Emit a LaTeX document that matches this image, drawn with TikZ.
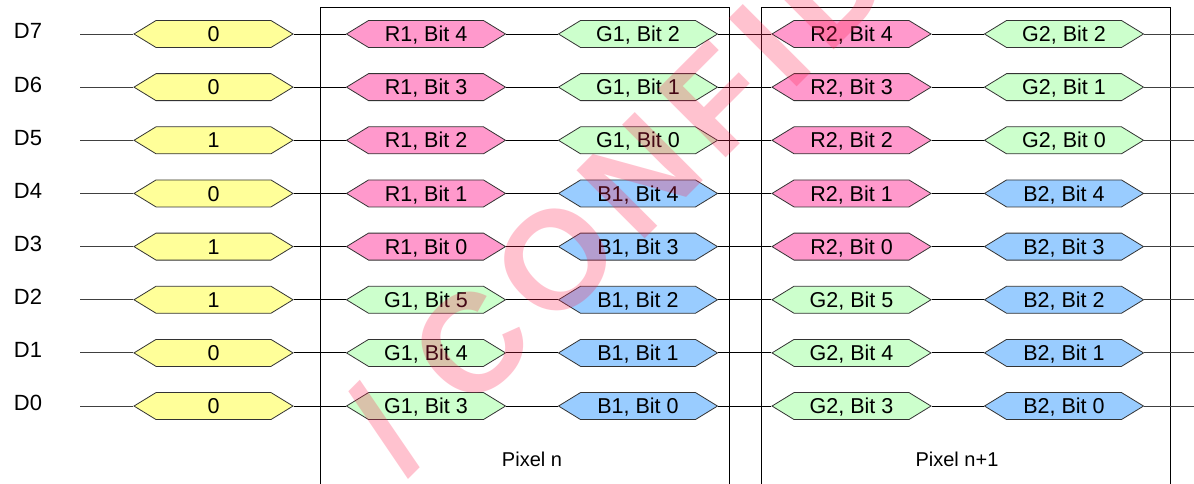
\documentclass[tikz,border=0pt]{standalone}
\usepackage{fontspec}
\setmainfont{Liberation Sans}
\newfontfamily\wmfont[LetterSpace=10]{Liberation Sans}
\usetikzlibrary{shapes.symbols}
\definecolor{colY}{HTML}{FFFF99}
\definecolor{colR}{HTML}{FF99CC}
\definecolor{colG}{HTML}{CCFFCC}
\definecolor{colB}{HTML}{99CCFF}
\definecolor{wmcol}{HTML}{FF2050}
\tikzset{
  hexbox/.style={shape=signal, signal to=west and east, signal pointer angle=63,
    minimum width=159pt, minimum height=27pt, inner sep=0pt, draw=black!80, line width=0.8pt,
    font=\fontsize{21.5}{24}\selectfont, text height=15.4pt, text depth=0pt},
  rowlabel/.style={font=\fontsize{22}{24}\selectfont, text height=15.8pt, text depth=0pt, inner sep=0pt},
  pixbox/.style={draw=black, line width=1pt},
  pixlabel/.style={font=\fontsize{20}{22}\selectfont, inner sep=0pt},
  wire/.style={draw=black, line width=0.9pt},
  wmark/.style={text=wmcol, text opacity=0.27, inner sep=0pt,
    font=\wmfont\bfseries\fontsize{140}{140}\selectfont}
}
\begin{document}
\begin{tikzpicture}[x=1pt,y=-1pt]
\path[use as bounding box] (0,0) rectangle (1194,484);
\clip (0,0) rectangle (1194,484);
\fill[white] (0,0) rectangle (1194,484);
% pixel frames
\draw[pixbox] (320,500) -- (320,8) -- (729,8) -- (729,500);
\draw[pixbox] (761,500) -- (761,8) -- (1170,8) -- (1170,500);
\node[pixlabel] (pn) at (532,459) {Pixel n};
\node[pixlabel] (pn1) at (957,459) {Pixel n+1};
% rows
\foreach \i/\v/\ca/\ba/\cb/\bb [count=\k from 0] in
  {7/0/R/4/G/2, 6/0/R/3/G/1, 5/1/R/2/G/0, 4/0/R/1/B/4,
   3/1/R/0/B/3, 2/1/G/5/B/2, 1/0/G/4/B/1, 0/0/G/3/B/0}{
  \pgfmathsetmacro{\yy}{34+53.15*\k}
  \node[rowlabel] (lab\i) at (28,\yy-3) {D\i};
  \coordinate (s\i) at (80,\yy);
  \coordinate (e\i) at (1194,\yy);
  \node[hexbox, fill=colY] (y\i) at (213.5,\yy) {\v};
  \node[hexbox, fill=col\ca] (a\i) at (426,\yy) {\ca1, Bit \ba};
  \node[hexbox, fill=col\cb] (b\i) at (638,\yy) {\cb1, Bit \bb};
  \node[hexbox, fill=col\ca] (c\i) at (851.5,\yy) {\ca2, Bit \ba};
  \node[hexbox, fill=col\cb] (d\i) at (1064,\yy) {\cb2, Bit \bb};
  \draw[wire, draw=black!75] (s\i) -- (y\i.west);
  \draw[wire] (y\i.east) -- (a\i.west);
  \draw[wire] (a\i.east) -- (b\i.west);
  \draw[wire] (b\i.east) -- (c\i.west);
  \draw[wire] (c\i.east) -- (d\i.west);
  \draw[wire, draw=black!75] (d\i.east) -- (e\i);
}
% watermark
\node[wmark, rotate=45, anchor=base west] (wmk) at (405,479) {/ CONFIDENTIAL};
\end{tikzpicture}
\end{document}
